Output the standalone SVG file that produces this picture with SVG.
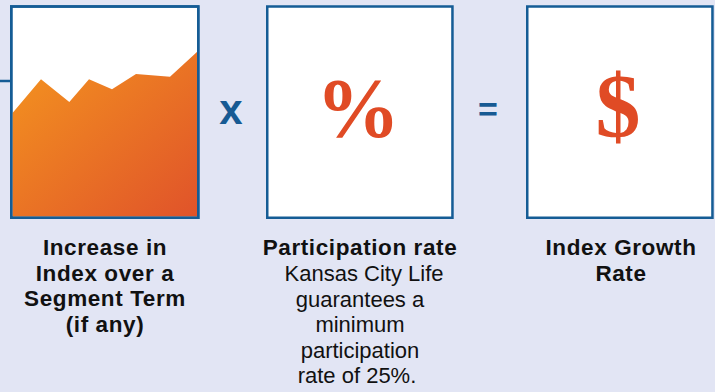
<svg xmlns="http://www.w3.org/2000/svg" width="715" height="392" viewBox="0 0 715 392">
<defs>
<linearGradient id="chartGrad" x1="0" y1="0" x2="1" y2="1">
<stop offset="0" stop-color="#F4951F"/>
<stop offset="1" stop-color="#E0532A"/>
</linearGradient>
<style>
.box{fill:#FFFFFF;stroke:#155C95;stroke-width:2.5}
.conn{stroke:#155C95;stroke-width:2.5;fill:none}
.op{font-family:"Liberation Sans",Arial,sans-serif;font-weight:bold;fill:#175A93;text-anchor:middle}
.sym{font-family:"Liberation Serif","Times New Roman",serif;font-weight:bold;fill:#E04B25;text-anchor:middle}
.lbl{font-family:"Liberation Sans",Arial,sans-serif;font-size:22px;fill:#111111;text-anchor:middle}
.b{font-weight:bold;font-size:22.5px;letter-spacing:0.6px}
</style>
</defs>
<rect width="715" height="392" fill="#E2E5F4"/>
<g id="connectors">
<line class="conn" x1="0" y1="81" x2="11" y2="81"/>
</g>
<g id="node-increase">
<rect class="box" x="11.25" y="6.5" width="187" height="211.25"/>
<polygon fill="url(#chartGrad)" points="12.5,113 41,79.3 69.3,102 89,79.3 112,89.3 136,74 170,76.7 197.2,51.7 197.2,216.5 12.5,216.5"/>
<rect x="11.25" y="6.5" width="187" height="211.25" fill="none" stroke="#155C95" stroke-width="2.5"/>
<text class="lbl b" x="105" y="255">Increase in</text>
<text class="lbl b" x="105" y="280.5">Index over a</text>
<text class="lbl b" x="105" y="306">Segment Term</text>
<text class="lbl b" x="105" y="331.5">(if any)</text>
</g>
<g id="op-times">
<text class="op" x="231" y="123.5" font-size="42">x</text>
</g>
<g id="node-participation">
<rect class="box" x="267.25" y="6.5" width="185.2" height="211.25"/>
<text class="sym" x="358" y="137" font-size="84">%</text>
<text class="lbl b" x="360" y="255">Participation rate</text>
<text class="lbl" x="364" y="281">Kansas City Life</text>
<text class="lbl" x="360" y="306.5">guarantees a</text>
<text class="lbl" x="360" y="332">minimum</text>
<text class="lbl" x="360" y="357.5">participation</text>
<text class="lbl" x="357" y="383">rate of 25%.</text>
</g>
<g id="op-equals">
<text class="op" x="488" y="121" font-size="34">=</text>
</g>
<g id="node-growth">
<rect class="box" x="527.25" y="6.5" width="185.2" height="211.25"/>
<text class="sym" x="618" y="137" font-size="90">$</text>
<text class="lbl b" x="621" y="255">Index Growth</text>
<text class="lbl b" x="621" y="281">Rate</text>
</g>
</svg>
